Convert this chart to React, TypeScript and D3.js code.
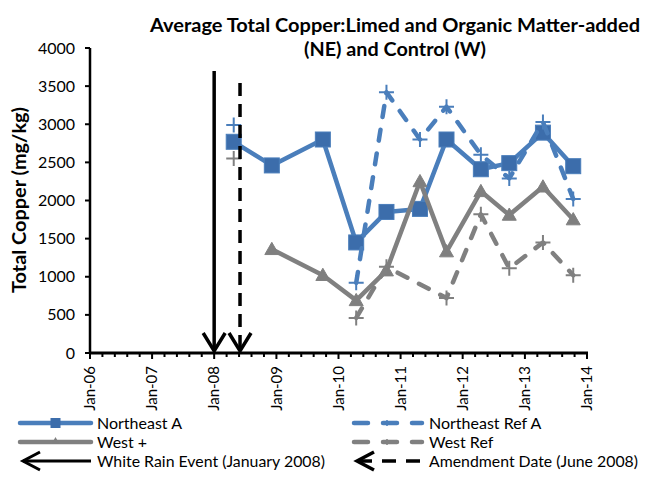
import React from "react";
import * as d3 from "d3";

// ---- data ----
const sampleDates = [
  "2008-04-25", "2008-12-05", "2009-10-01", "2010-04-15", "2010-10-10",
  "2011-04-25", "2011-09-28", "2012-04-17", "2012-10-01", "2013-04-17", "2013-10-12",
];
// null = gap in the line; undefined = no sample, line continues
const northeastA = [2770, 2460, 2800, 1450, 1850, 1890, 2800, 2410, 2490, 2890, 2450];
const northeastRefA = [2990, null, null, 920, 3420, 2800, 3230, 2600, 2290, 3030, 2020];
const westPlus = [null, 1360, 1020, 690, 1080, 2250, 1330, 2120, 1810, 2180, 1750];
const westRef = [2550, null, null, 460, 1130, undefined, 720, 1820, 1110, 1450, 1020];

const eventDates = ["2008-01-01", "2008-06-01"];
const eventTops = [3700, 3540];

const yTicks = [0, 500, 1000, 1500, 2000, 2500, 3000, 3500, 4000];
const xTickYears = [2006, 2007, 2008, 2009, 2010, 2011, 2012, 2013, 2014];

const titleLines = ["Average Total Copper:Limed and Organic Matter-added", "(NE) and Control (W)"];
const yTitle = "Total Copper (mg/kg)";
const legendLabels = [
  "Northeast A", "Northeast Ref A", "West +", "West Ref",
  "White Rain Event (January 2008)", "Amendment Date (June 2008)",
];

const FONT = "Lato, 'Open Sans', sans-serif";
const BLUE = "#4A7EBB";
const BLUE_M = "#3C6DAB";
const GREY = "#808080";

const W = 651, H = 477;
const M = { left: 90, right: 587, top: 48, bottom: 353 };

export default function App() {
  const parse = (s: string) => new Date(s + "T00:00:00Z");
  const x = d3.scaleUtc().domain([parse("2006-01-01"), parse("2014-01-01")]).range([M.left, M.right]);
  const y = d3.scaleLinear().domain([0, 4000]).range([M.bottom, M.top]);

  const mk = (vals: (number | null | undefined)[]) =>
    vals
      .map((v, i) => ({ d: parse(sampleDates[i]), v }))
      .filter((p) => p.v !== undefined) as { d: Date; v: number | null }[];

  const line = d3
    .line<{ d: Date; v: number | null }>()
    .defined((p) => p.v !== null)
    .x((p) => x(p.d))
    .y((p) => y(p.v as number));

  const nea = mk(northeastA);
  const ner = mk(northeastRefA);
  const wp = mk(westPlus);
  const wr = mk(westRef);

  const plus = (cx: number, cy: number, s: number) =>
    `M${cx - s},${cy}H${cx + s}M${cx},${cy - s}V${cy + s}`;
  const tri = (cx: number, cy: number, s: number) =>
    `M${cx},${cy - s}L${cx + s},${cy + s * 0.75}L${cx - s},${cy + s * 0.75}Z`;

  // minor ticks: 5 per year
  const minor: Date[] = [];
  for (let yr = 2006; yr < 2014; yr++) {
    const a = Date.UTC(yr, 0, 1), b = Date.UTC(yr + 1, 0, 1);
    for (let k = 1; k < 5; k++) minor.push(new Date(a + ((b - a) * k) / 5));
  }

  const legRows = [423, 442, 461];
  const Lx0 = 20, Lx1 = 91, Ltx = 97;
  const Rx0 = 352, Rx1 = 422, Rtx = 429;
  const LFS = 16;

  return (
    <svg width={W} height={H} style={{ position: "absolute", left: 0, top: 0, background: "#fff" }} fontFamily={FONT}>
      <rect x={0} y={0} width={W} height={H} fill="#fff" />
      {/* title */}
      {titleLines.map((t, i) => (
        <text key={t} x={395} y={31.5 + i * 24} textAnchor="middle" fontSize={19} fontWeight="bold" fill="#000"
          textLength={i === 0 ? 490 : 182} lengthAdjust="spacingAndGlyphs">
          {t}
        </text>
      ))}
      {/* y title */}
      <text transform={`translate(26,200) rotate(-90)`} textAnchor="middle" fontSize={18} fontWeight="bold" fill="#000"
        textLength={186} lengthAdjust="spacingAndGlyphs">
        {yTitle}
      </text>

      {/* y axis */}
      <line x1={M.left} x2={M.left} y1={M.top} y2={M.bottom} stroke="#000" strokeWidth={2.5} />
      {yTicks.map((t) => (
        <g key={t}>
          <line x1={M.left - 5} x2={M.left} y1={y(t)} y2={y(t)} stroke="#000" strokeWidth={2} />
          <text x={75} y={y(t)} dy="0.35em" textAnchor="end" fontSize={16} fill="#000">
            {t}
          </text>
        </g>
      ))}

      {/* x axis */}
      <line x1={M.left - 1} x2={M.right + 1} y1={M.bottom} y2={M.bottom} stroke="#000" strokeWidth={3} />
      {minor.map((d, i) => (
        <line key={i} x1={x(d)} x2={x(d)} y1={M.bottom} y2={M.bottom + 4} stroke="#000" strokeWidth={2} />
      ))}
      {xTickYears.map((yr) => {
        const d = new Date(Date.UTC(yr, 0, 1));
        const lab = "Jan-" + String(yr % 100).padStart(2, "0");
        return (
          <g key={yr}>
            <line x1={x(d)} x2={x(d)} y1={M.bottom} y2={M.bottom + 6} stroke="#000" strokeWidth={2} />
            <text transform={`translate(${x(d)},${M.bottom + 13}) rotate(-90)`} dy="0.35em" textAnchor="end" fontSize={15} fill="#000">
              {lab}
            </text>
          </g>
        );
      })}

      {/* Northeast A */}
      <path d={line(nea) || ""} fill="none" stroke={BLUE} strokeWidth={4.5} strokeLinejoin="round" />
      {nea.filter((p) => p.v !== null).map((p, i) => (
        <rect key={i} x={x(p.d) - 7.5} y={y(p.v as number) - 7.5} width={15} height={15} fill={BLUE_M} stroke={BLUE} strokeWidth={1} />
      ))}

      {/* Northeast Ref A */}
      <path d={line(ner) || ""} fill="none" stroke={BLUE} strokeWidth={4.5} strokeDasharray="11,13" strokeLinecap="round" strokeLinejoin="round" />
      {ner.filter((p) => p.v !== null).map((p, i) => (
        <path key={i} d={plus(x(p.d), y(p.v as number), 7.5)} stroke={BLUE} strokeWidth={2} fill="none" />
      ))}

      {/* West + */}
      <path d={line(wp) || ""} fill="none" stroke={GREY} strokeWidth={4.5} strokeLinejoin="round" />
      {wp.filter((p) => p.v !== null).map((p, i) => (
        <path key={i} d={tri(x(p.d), y(p.v as number), 7)} fill="#7F7F7F" stroke={GREY} strokeWidth={1} />
      ))}

      {/* West Ref */}
      <path d={line(wr) || ""} fill="none" stroke={GREY} strokeWidth={4.5} strokeDasharray="11,13" strokeLinecap="round" strokeLinejoin="round" />
      {wr.filter((p) => p.v !== null).map((p, i) => (
        <path key={i} d={plus(x(p.d), y(p.v as number), 7.5)} stroke={GREY} strokeWidth={2} fill="none" />
      ))}

      {/* event arrows */}
      {eventDates.map((ds, i) => {
        const ex = x(parse(ds));
        const top = y(eventTops[i]);
        const bot = y(0) - 2;
        return (
          <g key={ds}>
            <line x1={ex} x2={ex} y1={top} y2={bot} stroke="#000" strokeWidth={3.5} strokeDasharray={i === 1 ? "13,8" : undefined} />
            <path d={`M${ex - 11},${bot - 18}L${ex},${bot}L${ex + 11},${bot - 18}`} fill="none" stroke="#000" strokeWidth={3.5} />
          </g>
        );
      })}

      {/* legend */}
      <g>
        {/* Northeast A */}
        <line x1={Lx0} x2={Lx1} y1={legRows[0]} y2={legRows[0]} stroke={BLUE} strokeWidth={4.5} strokeLinecap="round" />
        <rect x={(Lx0 + Lx1) / 2 - 5} y={legRows[0] - 5} width={10} height={10} fill={BLUE_M} />
        <text x={Ltx} y={legRows[0]} dy="0.35em" fontSize={LFS}>{legendLabels[0]}</text>
        {/* West + */}
        <line x1={Lx0} x2={Lx1} y1={legRows[1]} y2={legRows[1]} stroke={GREY} strokeWidth={4.5} strokeLinecap="round" />
        <path d={tri((Lx0 + Lx1) / 2, legRows[1] - 1, 4)} fill="#7F7F7F" />
        <text x={Ltx} y={legRows[1]} dy="0.35em" fontSize={LFS}>{legendLabels[2]}</text>
        {/* White rain */}
        <line x1={Lx0 + 3} x2={Lx1} y1={legRows[2]} y2={legRows[2]} stroke="#000" strokeWidth={3} />
        <path d={`M${Lx0 + 20},${legRows[2] - 9}L${Lx0 + 3},${legRows[2]}L${Lx0 + 20},${legRows[2] + 9}`} fill="none" stroke="#000" strokeWidth={3} />
        <text x={Ltx} y={legRows[2]} dy="0.35em" fontSize={LFS} textLength={228} lengthAdjust="spacingAndGlyphs">{legendLabels[4]}</text>

        {/* Northeast Ref */}
        <line x1={Rx0 + 2} x2={Rx1} y1={legRows[0]} y2={legRows[0]} stroke={BLUE} strokeWidth={4.5} strokeDasharray="14,15" strokeLinecap="round" />
        <path d={plus(Rx0 + 35, legRows[0], 3)} stroke={BLUE} strokeWidth={1.5} />
        <text x={Rtx} y={legRows[0]} dy="0.35em" fontSize={LFS}>{legendLabels[1]}</text>
        {/* West Ref */}
        <line x1={Rx0 + 2} x2={Rx1} y1={legRows[1]} y2={legRows[1]} stroke={GREY} strokeWidth={4.5} strokeDasharray="14,15" strokeLinecap="round" />
        <path d={plus(Rx0 + 35, legRows[1], 3)} stroke={GREY} strokeWidth={1.5} />
        <text x={Rtx} y={legRows[1]} dy="0.35em" fontSize={LFS}>{legendLabels[3]}</text>
        {/* Amendment */}
        <line x1={Rx0 + 6} x2={Rx1} y1={legRows[2]} y2={legRows[2]} stroke="#000" strokeWidth={3.5} strokeDasharray="14,10" />
        <path d={`M${Rx0 + 22},${legRows[2] - 9}L${Rx0 + 5},${legRows[2]}L${Rx0 + 22},${legRows[2] + 9}`} fill="none" stroke="#000" strokeWidth={3.5} />
        <text x={Rtx} y={legRows[2]} dy="0.35em" fontSize={LFS} textLength={209} lengthAdjust="spacingAndGlyphs">{legendLabels[5]}</text>
      </g>
    </svg>
  );
}
